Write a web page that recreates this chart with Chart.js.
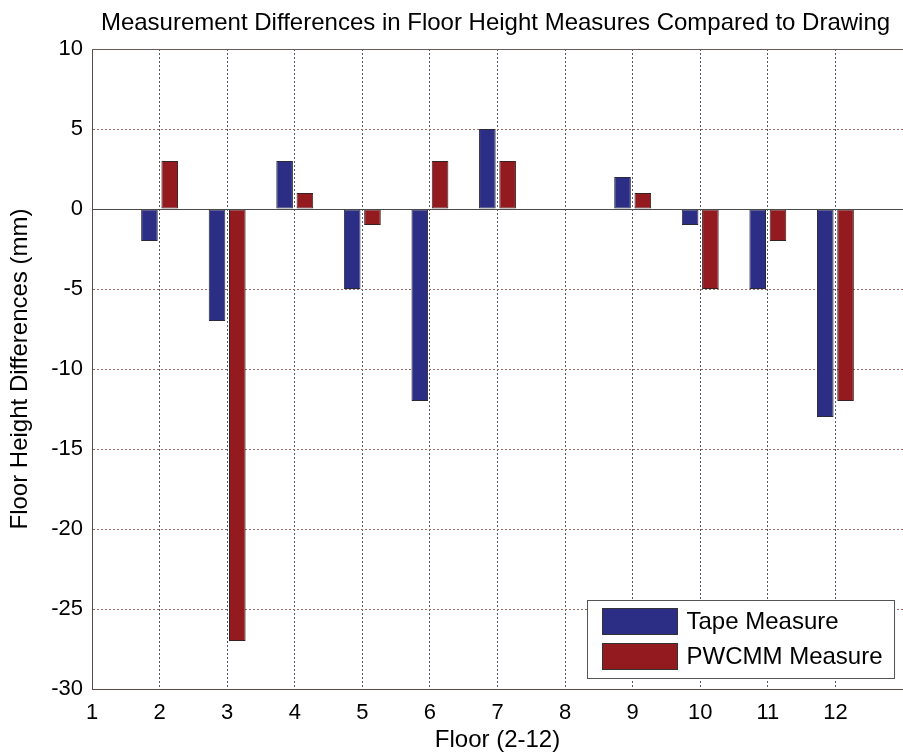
<!DOCTYPE html>
<html>
<head>
<meta charset="utf-8">
<script src="https://cdn.jsdelivr.net/npm/chart.js@4/dist/chart.umd.min.js"></script>
<style>
  body { margin: 0; background: #fff; }
  canvas { display: block; }
</style>
</head>
<body>
<canvas id="floor-chart" width="903" height="755"></canvas>
<script>
const floors = ['1', '2', '3', '4', '5', '6', '7', '8', '9', '10', '11', '12', '13'];
const tapeMeasure = [null, -2, -7, 3, -5, -12, 5, 0, 2, -1, -5, -13, null];
const pwcmmMeasure = [null, 3, -27, 1, -1, 3, 3, 0, 1, -5, -2, -12, null];
const yTicks = [10, 5, 0, -5, -10, -15, -20, -25, -30];

const FONT = "'Liberation Sans', Arial, sans-serif";
const chartTitle = 'Measurement Differences in Floor Height Measures Compared to Drawing';

// title, top frame, zero line and the boxed legend (matlab style)
const matlabBits = {
  id: 'matlabBits',
  afterDatasetsDraw(chart) {
    const { ctx, chartArea } = chart;
    const y0 = chart.scales.y.getPixelForValue(0);
    ctx.save();
    ctx.strokeStyle = '#4a4a4a';
    ctx.lineWidth = 1;
    ctx.beginPath();
    ctx.moveTo(chartArea.left, Math.round(y0) + 0.5);
    ctx.lineTo(chartArea.right, Math.round(y0) + 0.5);
    ctx.stroke();
    ctx.strokeStyle = '#6b5a58';
    ctx.beginPath();
    ctx.moveTo(chartArea.left, chartArea.top + 0.5);
    ctx.lineTo(chartArea.right, chartArea.top + 0.5);
    ctx.stroke();
    ctx.restore();
  },
  afterDraw(chart) {
    const { ctx, chartArea } = chart;
    ctx.save();
    ctx.fillStyle = '#000';
    ctx.font = '24px ' + FONT;
    ctx.textAlign = 'center';
    ctx.textBaseline = 'middle';
    ctx.fillText(chartTitle, (chartArea.left + chartArea.right) / 2 - 2, 23);

    // legend
    const sets = chart.data.datasets;
    ctx.font = '24px ' + FONT;
    const textW = Math.max(...sets.map((d) => ctx.measureText(d.label).width));
    const boxW = 15 + 75 + 9 + textW + 12;
    const boxH = 78;
    const bx = Math.round(chartArea.right - 9 - boxW) + 0.5;
    const by = Math.round(chartArea.bottom - 11 - boxH) + 0.5;
    ctx.fillStyle = '#fff';
    ctx.fillRect(bx, by, boxW, boxH);
    ctx.strokeStyle = '#555';
    ctx.lineWidth = 1;
    ctx.strokeRect(bx, by, boxW, boxH);
    sets.forEach((d, i) => {
      const sy = by + 8 + i * 35;
      ctx.fillStyle = d.backgroundColor;
      ctx.fillRect(bx + 15, sy, 75, 26);
      ctx.strokeStyle = '#333';
      ctx.strokeRect(bx + 15, sy, 75, 26);
      ctx.fillStyle = '#000';
      ctx.textAlign = 'left';
      ctx.fillText(d.label, bx + 15 + 75 + 9, sy + 14);
    });
    ctx.restore();
  },
};

new Chart(document.getElementById('floor-chart'), {
  type: 'bar',
  data: {
    labels: floors,
    datasets: [
      {
        label: 'Tape Measure',
        data: tapeMeasure,
        backgroundColor: '#2b2e84',
        borderColor: '#2a2a3a',
        borderWidth: 1,
        borderSkipped: false,
      },
      {
        label: 'PWCMM Measure',
        data: pwcmmMeasure,
        backgroundColor: '#931b1f',
        borderColor: '#3a2222',
        borderWidth: 1,
        borderSkipped: false,
      },
    ],
  },
  options: {
    responsive: false,
    animation: false,
    devicePixelRatio: 1,
    categoryPercentage: 0.6,
    barPercentage: 0.82,
    layout: { padding: { top: 49, left: 0, right: 0, bottom: 0 } },
    plugins: {
      legend: { display: false },
      title: { display: false },
      tooltip: { enabled: false },
    },
    scales: {
      x: {
        offset: false,
        grid: { offset: false, color: '#55556a', lineWidth: 1, drawTicks: false },
        border: { color: '#5a4a48', dash: [2, 2] },
        ticks: {
          autoSkip: false,
          maxRotation: 0,
          padding: 11,
          color: '#000',
          font: { family: FONT, size: 22 },
          callback: (val, i) => (i === floors.length - 1 ? '' : floors[i]),
        },
        title: {
          display: true,
          text: 'Floor (2-12)',
          color: '#000',
          font: { family: FONT, size: 24 },
          padding: { top: 0, bottom: 0 },
        },
        afterFit: (scale) => {
          scale.height = 66;
          scale.paddingRight = 0;
        },
      },
      y: {
        min: -30,
        max: 10,
        afterBuildTicks: (scale) => { scale.ticks = yTicks.map((v) => ({ value: v })); },
        grid: { color: '#9c6e62', lineWidth: 1, drawTicks: false },
        border: { color: '#5a4a48', dash: [2, 2] },
        ticks: {
          padding: 9,
          color: '#000',
          font: { family: FONT, size: 22 },
        },
        title: {
          display: true,
          text: 'Floor Height Differences (mm)',
          color: '#000',
          font: { family: FONT, size: 24 },
          padding: { top: 6, bottom: 0 },
        },
        afterFit: (scale) => { scale.width = 92; },
      },
    },
  },
  plugins: [matlabBits],
});
</script>
</body>
</html>
